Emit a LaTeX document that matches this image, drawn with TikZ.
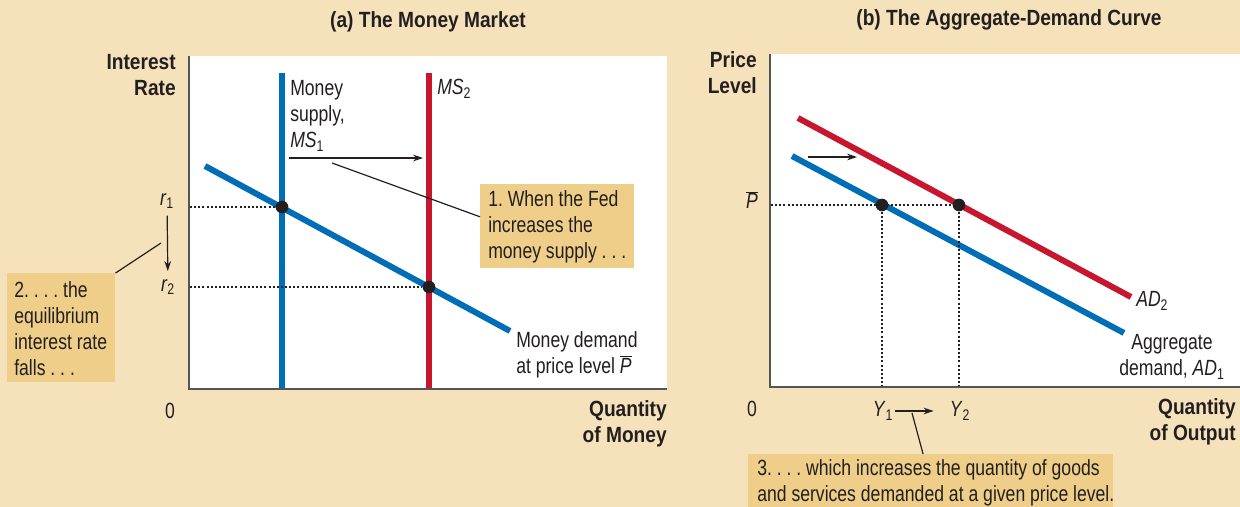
\documentclass[tikz,border=0pt]{standalone}
\usepackage{fontspec}
\setmainfont{Liberation Sans}[FakeStretch=0.8]
\newfontfamily\boldlblfamily{Liberation Sans Bold}[FakeStretch=0.87]
\usetikzlibrary{arrows.meta}
\definecolor{bgtan}{RGB}{246,226,186}
\definecolor{boxtan}{RGB}{238,206,136}
\definecolor{msblue}{RGB}{0,110,182}
\definecolor{msred}{RGB}{200,22,46}
\definecolor{axisgray}{RGB}{85,85,85}
\definecolor{inkdark}{RGB}{35,31,32}
\newcommand{\lblfont}{\fontsize{16.5}{19.5}\selectfont}
\newcommand{\ttlfont}{\boldlblfamily\fontsize{16.5}{19.5}\selectfont}
\newcommand{\itsub}[2]{\textit{#1}\textsubscript{#2}}
\newcommand{\pbar}{$\overline{\mbox{\textit{P}}}$}

\begin{document}
\frenchspacing
\begin{tikzpicture}[x=0.75pt, y=-0.75pt, >={Stealth[length=7.5pt,width=5pt]},
  lbl/.style={inner sep=0pt, font=\lblfont, text=inkdark},
  ttl/.style={inner sep=0pt, font=\ttlfont, text=inkdark},
  notebox/.style={fill=boxtan, inner sep=0pt, anchor=north west},
  dot/.style={circle, fill=inkdark, inner sep=0pt, minimum size=9.5pt},
  curve/.style={line width=4.5pt},
  guide/.style={inkdark, line width=1.5pt, dash pattern=on 1.5pt off 1.6pt},
  axis/.style={axisgray, line width=2.2pt},
  call/.style={inkdark, line width=0.9pt}]
  \fill[bgtan] (0,0) rectangle (1240,507);
  \useasboundingbox (0,0) rectangle (1240,507);

  % (a) money market
  \node[ttl] (ttla) at (428,22) {(a) The Money Market};
  \fill[white] (190,56) rectangle (667,388);
  \node[ttl, align=right, anchor=east] (yaxa) at (176,75) {Interest\\Rate};
  \node[ttl, align=right, anchor=east] (xaxa) at (667,424) {Quantity\\of Money};
  \node[lbl] (zeroa) at (170,411) {0};

  \coordinate (ms1top) at (282,73);
  \coordinate (ms1bot) at (282,388);
  \coordinate (ms2top) at (429,73);
  \coordinate (ms2bot) at (429,388);
  \coordinate (mdA) at (205,166);
  \coordinate (mdB) at (510,331);
  \draw[curve, msblue] (ms1top) -- (ms1bot);
  \draw[curve, msred] (ms2top) -- (ms2bot);
  \draw[curve, msblue] (mdA) -- (mdB);

  \node[dot] (e1) at (282,207) {};
  \node[dot] (e2) at (429,287) {};
  \coordinate (r1ax) at (190,207);
  \coordinate (r2ax) at (190,287);
  \draw[guide] (r1ax) -- (e1);
  \draw[guide] (r2ax) -- (e2);

  \node[lbl, align=left, anchor=west] (ms1lbl) at (290,116) {Money\\supply,\\\itsub{MS}{1}};
  \node[lbl, anchor=west] (ms2lbl) at (437,89) {\itsub{MS}{2}};
  \node[lbl, align=left, anchor=west] (mdlbl) at (516,355) {Money demand\\at price level \pbar};
  \node[lbl] (r1) at (167,201) {\itsub{r}{1}};
  \node[lbl] (r2) at (168,287) {\itsub{r}{2}};
  \draw[->, call, shorten <=5pt, shorten >=6pt] (r1) -- (r2);

  \coordinate (shA1) at (289,158);
  \coordinate (shA2) at (423,158);
  \draw[->, call] (shA1) -- (shA2);

  \node[notebox, minimum width=115.5pt, minimum height=63pt] (box1) at (480,184) {};
  \node[lbl, align=left, anchor=west] (note1) at (488,227) {1. When the Fed\\increases the\\money supply . . .};
  \node[notebox, minimum width=81pt, minimum height=81.75pt] (box2) at (7,273) {};
  \node[lbl, align=left, anchor=west] (note2) at (14,329) {2. . . . the\\equilibrium\\interest rate\\falls . . .};
  \coordinate (calA) at (332,163);
  \coordinate (calB) at (161,243);
  \draw[call] (calA) -- (box1.173);
  \draw[call] (box2.north east) -- (calB);

  \draw[axis] (189,56) -- (189,389) -- (667,389);

  % (b) aggregate demand
  \node[ttl] (ttlb) at (1009,20) {(b) The Aggregate-Demand Curve};
  \fill[white] (770,54) rectangle (1240,386);
  \node[ttl, align=right, anchor=east] (yaxb) at (757,73) {Price\\Level};
  \node[ttl, align=right, anchor=east] (xaxb) at (1236,422) {Quantity\\of Output};
  \node[lbl] (zerob) at (752,409) {0};

  \coordinate (ad2A) at (798,118);
  \coordinate (ad2B) at (1131,297);
  \coordinate (ad1A) at (792,156);
  \coordinate (ad1B) at (1124,333);
  \draw[curve, msred] (ad2A) -- (ad2B);
  \draw[curve, msblue] (ad1A) -- (ad1B);

  \node[dot] (f1) at (882,205) {};
  \node[dot] (f2) at (959,205) {};
  \coordinate (pax) at (771,205);
  \coordinate (y1ax) at (882,386);
  \coordinate (y2ax) at (959,386);
  \draw[guide] (pax) -- (f2);
  \draw[guide] (f1) -- (y1ax);
  \draw[guide] (f2) -- (y2ax);

  \node[lbl] (plbl) at (752,200) {\pbar};
  \node[lbl, anchor=west] (ad2lbl) at (1136,301) {\itsub{AD}{2}};
  \node[lbl, align=center] (ad1lbl) at (1172,357) {Aggregate\\demand, \itsub{AD}{1}};

  \coordinate (shB1) at (808,157);
  \coordinate (shB2) at (857,157);
  \draw[->, call] (shB1) -- (shB2);

  \node[lbl] (y1) at (883,411) {\itsub{Y}{1}};
  \node[lbl] (y2) at (960,411) {\itsub{Y}{2}};
  \draw[->, call, shorten <=1pt, shorten >=12pt] (y1) -- (y2);

  \node[notebox, minimum width=273.75pt, minimum height=39.75pt] (box3) at (748,454) {};
  \node[lbl, align=left, anchor=west] (note3) at (757,483) {3. . . . which increases the quantity of goods\\and services demanded at a given price level.};
  \coordinate (calC) at (912,413);
  \draw[call] (calC) -- (box3.106);

  \draw[axis] (770,54) -- (770,387) -- (1240,387);
\end{tikzpicture}
\end{document}
